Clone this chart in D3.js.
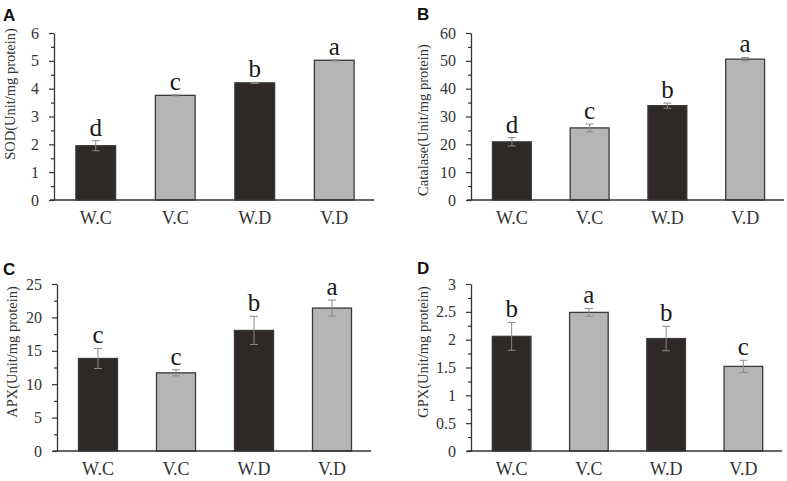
<!DOCTYPE html>
<html>
<head>
<meta charset="utf-8">
<script src="https://cdn.jsdelivr.net/npm/d3@7"></script>
<style>
  body { margin: 0; background: #fff; }
  text { font-family: "Liberation Serif", "Times New Roman", serif; }
</style>
</head>
<body>
<div id="chart"></div>
<script>
// treatment groups (x categories)
const groups = ["W.C", "V.C", "W.D", "V.D"];

// A - SOD
const sodMean = [1.95, 3.76, 4.21, 5.02];
const sodErr = [0.18, 0.02, 0.02, 0.02];
const sodLetters = ["d", "c", "b", "a"];
const sodTicks = [0, 1, 2, 3, 4, 5, 6];

// B - Catalase
const catMean = [20.9, 25.9, 33.9, 50.6];
const catErr = [1.5, 1.4, 0.9, 0.6];
const catLetters = ["d", "c", "b", "a"];
const catTicks = [0, 10, 20, 30, 40, 50, 60];

// C - APX
const apxMean = [13.85, 11.7, 18.05, 21.4];
const apxErr = [1.5, 0.45, 2.1, 1.2];
const apxLetters = ["c", "c", "b", "a"];
const apxTicks = [0, 5, 10, 15, 20, 25];

// D - GPX
const gpxMean = [2.06, 2.49, 2.02, 1.52];
const gpxErr = [0.25, 0.07, 0.22, 0.11];
const gpxLetters = ["b", "a", "b", "c"];
const gpxTicks = [0, 0.5, 1, 1.5, 2, 2.5, 3];

const W = 787, H = 481;
const serif = "'Liberation Serif', 'Times New Roman', serif";

// layout of each panel (axis x, axis end, top, bottom, title centre)
const panels = [
  { tag: "A", title: "SOD(Unit/mg protein)", mean: sodMean, err: sodErr, letters: sodLetters, ticks: sodTicks,
    ax: 54, x1: 374, top: 33, bottom: 200, tx: 10, ty: 94, lx: 3, ly: 21 },
  { tag: "B", title: "Catalase(Unit/mg protein)", mean: catMean, err: catErr, letters: catLetters, ticks: catTicks,
    ax: 471, x1: 784, top: 33, bottom: 200, tx: 422.5, ty: 120, lx: 417, ly: 20 },
  { tag: "C", title: "APX(Unit/mg protein)", mean: apxMean, err: apxErr, letters: apxLetters, ticks: apxTicks,
    ax: 57, x1: 371, top: 284, bottom: 451, tx: 12, ty: 352, lx: 3, ly: 275 },
  { tag: "D", title: "GPX(Unit/mg protein)", mean: gpxMean, err: gpxErr, letters: gpxLetters, ticks: gpxTicks,
    ax: 471, x1: 782, top: 284, bottom: 451, tx: 423, ty: 352, lx: 417, ly: 274 }
];

const dark = "#2e2927", light = "#b4b5b4";

const svg = d3.select("#chart").append("svg")
    .attr("width", W)
    .attr("height", H)
    .attr("viewBox", `0 0 ${W} ${H}`);

svg.append("rect").attr("width", W).attr("height", H).attr("fill", "#fff");

panels.forEach(p => {
  const g = svg.append("g");

  const x = d3.scaleBand()
      .domain(groups)
      .range([p.ax + 2, p.x1])
      .paddingInner(0.5)
      .paddingOuter(0.25);

  const step = p.ticks[1] - p.ticks[0];
  const y = d3.scaleLinear()
      .domain([0, p.ticks[p.ticks.length - 1]])
      .range([p.bottom, p.top]);

  // minor ticks (half steps)
  const minor = p.ticks.slice(1).map(t => t - step / 2);
  g.append("g")
      .attr("transform", `translate(${p.ax},0)`)
      .call(d3.axisLeft(y).tickValues(minor).tickSize(3).tickFormat(""))
      .call(a => a.select(".domain").remove())
      .call(a => a.selectAll("line").attr("stroke", "#333").attr("stroke-width", 1.2));

  // y axis
  g.append("g")
      .attr("transform", `translate(${p.ax},0)`)
      .call(d3.axisLeft(y).tickValues(p.ticks).tickSize(5).tickSizeOuter(0).tickPadding(10)
        .tickFormat(d => d3.format("")(d)))
      .attr("font-family", serif)
      .attr("font-size", 16)
      .call(a => a.select(".domain").attr("stroke", "#333").attr("stroke-width", 1.3))
      .call(a => a.selectAll("line").attr("stroke", "#333").attr("stroke-width", 1.2))
      .call(a => a.selectAll("text").attr("fill", "#333"));

  // bars
  g.selectAll(".bar")
    .data(groups)
    .join("rect")
      .attr("class", "bar")
      .attr("x", d => x(d))
      .attr("width", x.bandwidth())
      .attr("y", (d, i) => y(p.mean[i]))
      .attr("height", (d, i) => y(0) - y(p.mean[i]))
      .attr("fill", d => d.startsWith("W") ? dark : light)
      .attr("stroke", "#3a3a3a")
      .attr("stroke-width", 1.3);

  // error bars
  const eb = g.selectAll(".err")
    .data(groups)
    .join("g")
      .attr("class", "err")
      .attr("stroke", "#8a8a8a")
      .attr("stroke-width", 1);
  const cx = d => x(d) + x.bandwidth() / 2;
  eb.append("line")
      .attr("x1", cx).attr("x2", cx)
      .attr("y1", (d, i) => y(p.mean[i] - p.err[i]))
      .attr("y2", (d, i) => y(p.mean[i] + p.err[i]));
  [1, -1].forEach(s => {
    eb.append("line")
        .attr("x1", d => cx(d) - 4).attr("x2", d => cx(d) + 4)
        .attr("y1", (d, i) => y(p.mean[i] + s * p.err[i]))
        .attr("y2", (d, i) => y(p.mean[i] + s * p.err[i]));
  });

  // significance letters
  g.selectAll(".sig")
    .data(groups)
    .join("text")
      .attr("class", "sig")
      .attr("x", cx)
      .attr("y", (d, i) => y(p.mean[i] + p.err[i]) - 5)
      .attr("text-anchor", "middle")
      .attr("fill", "#1a1a1a")
      .style("font-size", "25px")
      .text((d, i) => p.letters[i]);

  // x axis
  g.append("line")
      .attr("x1", p.ax - 4).attr("x2", p.x1)
      .attr("y1", p.bottom).attr("y2", p.bottom)
      .attr("stroke", "#333").attr("stroke-width", 1.3);
  g.append("g")
      .attr("transform", `translate(0,${p.bottom})`)
      .call(d3.axisBottom(x).tickSize(0).tickPadding(11))
      .attr("font-family", serif)
      .attr("font-size", 18)
      .call(a => a.select(".domain").remove())
      .call(a => a.selectAll("text").attr("fill", "#333"));

  // y title
  g.append("text")
      .attr("transform", `translate(${p.tx},${p.ty}) rotate(-90)`)
      .attr("text-anchor", "middle")
      .attr("dominant-baseline", "central")
      .attr("fill", "#333")
      .style("font-size", "14.5px")
      .text(p.title);

  // panel tag
  g.append("text")
      .attr("x", p.lx).attr("y", p.ly)
      .attr("fill", "#111")
      .style("font-family", "'Liberation Sans', Arial, sans-serif")
      .style("font-weight", "bold")
      .style("font-size", "17px")
      .text(p.tag);
});
</script>
</body>
</html>
